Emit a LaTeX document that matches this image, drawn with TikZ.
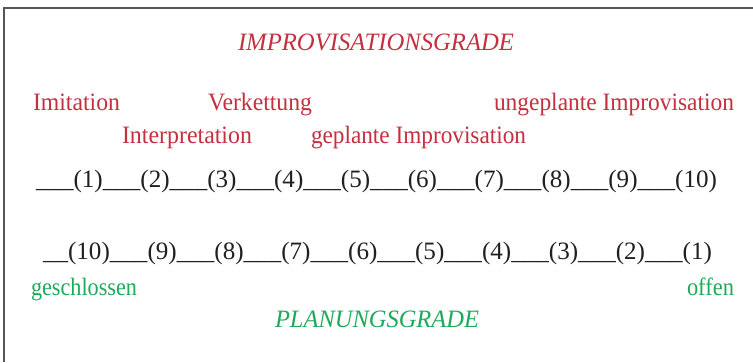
\documentclass[tikz,border=0pt]{standalone}
\usepackage{graphicx}
\usepackage{fontspec}
\setmainfont{Liberation Serif}
\definecolor{ired}{HTML}{C4303F}
\definecolor{pgreen}{HTML}{1DAA5B}
\definecolor{ink}{HTML}{231F20}
\definecolor{frame}{HTML}{555555}
\newcommand{\fitw}[2]{\resizebox{#1pt}{\height}{#2}}
\begin{document}
\begin{tikzpicture}[x=1pt,y=-1pt,
  txt/.style={anchor=base west,inner sep=0pt,outer sep=0pt,font=\fontsize{25}{30}\selectfont},
  redtxt/.style={txt,text=ired},
  greentxt/.style={txt,text=pgreen},
  scaletxt/.style={txt,text=ink}]
\useasboundingbox (0,0) rectangle (753,362);
\fill[white] (0,0) rectangle (753,362);
\draw[frame,line width=2pt] (3.5,362) -- (3.5,7.5) -- (753,7.5);
% improvisation labels
\node[redtxt] (title) at (238,50) {\fitw{276}{\itshape IMPROVISATIONSGRADE}};
\node[redtxt] (imit) at (33,110) {\fitw{87}{Imitation}};
\node[redtxt] (verk) at (208,110) {\fitw{104}{Verkettung}};
\node[redtxt] (ungep) at (494,110) {\fitw{240}{ungeplante Improvisation}};
\node[redtxt] (interp) at (122,143) {\fitw{130}{Interpretation}};
\node[redtxt] (gepl) at (311,143) {\fitw{215}{geplante Improvisation}};
% scales
\node[scaletxt] (rowa) at (36,187) {\fitw{681}{\_\_\_(1)\_\_\_(2)\_\_\_(3)\_\_\_(4)\_\_\_(5)\_\_\_(6)\_\_\_(7)\_\_\_(8)\_\_\_(9)\_\_\_(10)}};
\node[scaletxt] (rowb) at (43,259) {\fitw{669}{\_\_(10)\_\_\_(9)\_\_\_(8)\_\_\_(7)\_\_\_(6)\_\_\_(5)\_\_\_(4)\_\_\_(3)\_\_\_(2)\_\_\_(1)}};
% planning labels
\node[greentxt] (geschl) at (31,295) {\fitw{106}{geschlossen}};
\node[greentxt] (offen) at (687,295) {\fitw{47}{offen}};
\node[greentxt] (plan) at (275,327) {\fitw{204}{\itshape PLANUNGSGRADE}};
\end{tikzpicture}
\end{document}
